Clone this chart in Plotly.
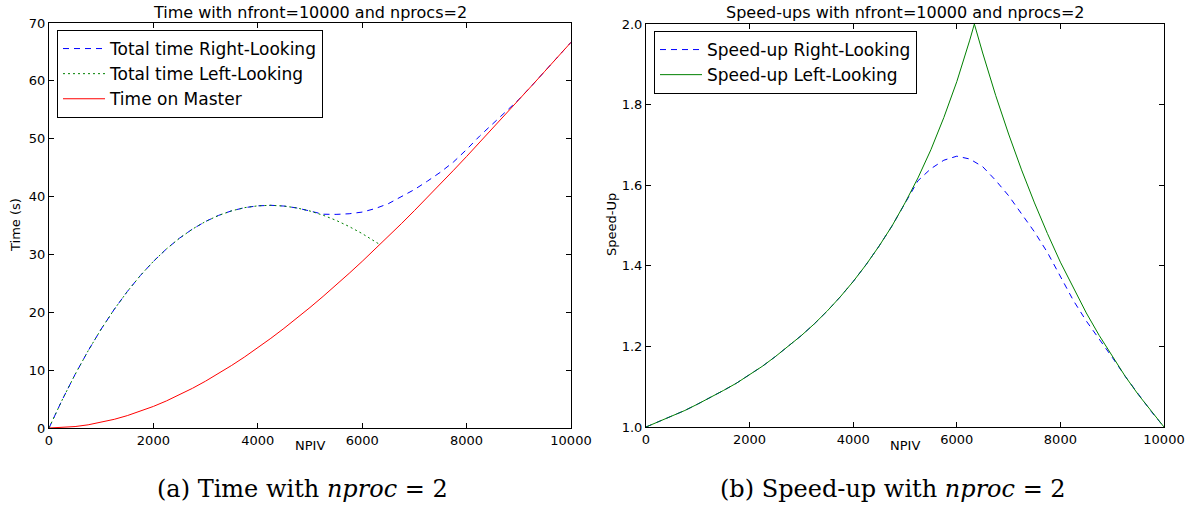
import plotly.graph_objects as go

# ---------------- data ----------------
npiv = [0, 250, 500, 750, 1000, 1250, 1500, 1750, 2000, 2250, 2500, 2750, 3000,
        3250, 3500, 3750, 4000, 4250, 4500, 4750, 5000, 5250, 5500, 5750, 6000,
        6250, 6500, 6750, 7000, 7250, 7500, 7750, 8000, 8250, 8500, 8750, 9000,
        9250, 9500, 9750, 10000]

npiv_left_time = [0, 250, 500, 750, 1000, 1250, 1500, 1750, 2000, 2250, 2500,
                  2750, 3000, 3250, 3500, 3750, 4000, 4250, 4500, 4750, 5000,
                  5250, 5500, 5750, 6000, 6250, 6339]

npiv_left_speed = [0, 250, 500, 750, 1000, 1250, 1500, 1750, 2000, 2250, 2500,
                   2750, 3000, 3250, 3500, 3750, 4000, 4250, 4500, 4750, 5000,
                   5250, 5500, 5750, 6000, 6250, 6339, 6500, 6750, 7000, 7250,
                   7500, 7750, 8000, 8250, 8500, 8750, 9000, 9250, 9500, 9750,
                   10000]

time_right_looking = [0, 4.81, 9.26, 13.35, 17.10, 20.51, 23.59, 26.35, 28.80,
                      30.95, 32.81, 34.39, 35.70, 36.75, 37.54, 38.09, 38.40,
                      38.49, 38.36, 38.03, 37.50, 36.95, 36.92, 37.03, 37.32,
                      37.93, 38.77, 39.94, 41.21, 42.67, 44.22, 45.99, 48.13,
                      50.46, 52.61, 54.59, 56.78, 59.18, 61.67, 64.17, 66.67]

time_left_looking = [0, 4.81, 9.26, 13.35, 17.10, 20.51, 23.59, 26.35, 28.80,
                     30.95, 32.81, 34.39, 35.70, 36.75, 37.54, 38.09, 38.40,
                     38.49, 38.36, 38.03, 37.50, 36.78, 35.89, 34.82, 33.60,
                     32.23, 31.70]

time_master = [0, 0.06, 0.25, 0.55, 0.97, 1.50, 2.14, 2.88, 3.73, 4.68, 5.73,
               6.87, 8.10, 9.42, 10.82, 12.30, 13.87, 15.50, 17.21, 18.99,
               20.83, 22.74, 24.70, 26.73, 28.80, 30.92, 33.10, 35.31, 37.57,
               39.86, 42.19, 44.55, 46.93, 49.35, 51.78, 54.23, 56.70, 59.18,
               61.67, 64.17, 66.67]

speedup_right_looking = [1.000, 1.013, 1.027, 1.041, 1.057, 1.073, 1.091, 1.109,
                         1.130, 1.151, 1.175, 1.200, 1.227, 1.256, 1.288, 1.323,
                         1.361, 1.403, 1.449, 1.499, 1.556, 1.611, 1.641, 1.662,
                         1.672, 1.665, 1.646, 1.612, 1.574, 1.530, 1.484, 1.433,
                         1.374, 1.314, 1.263, 1.219, 1.173, 1.126, 1.081, 1.039,
                         1.000]

speedup_left_looking = [1.000, 1.013, 1.027, 1.041, 1.057, 1.073, 1.091, 1.109,
                        1.130, 1.151, 1.175, 1.200, 1.227, 1.256, 1.288, 1.323,
                        1.361, 1.403, 1.449, 1.499, 1.556, 1.618, 1.688, 1.768,
                        1.857, 1.960, 2.000, 1.928, 1.823, 1.727, 1.638, 1.556,
                        1.480, 1.409, 1.344, 1.283, 1.227, 1.175, 1.126, 1.081,
                        1.039, 1.000]

x_ticks = [0, 2000, 4000, 6000, 8000, 10000]
x_tick_text = ["0", "2000", "4000", "6000", "8000", "10000"]
time_ticks = [0, 10, 20, 30, 40, 50, 60, 70]
time_tick_text = ["0", "10", "20", "30", "40", "50", "60", "70"]
speed_ticks = [1.0, 1.2, 1.4, 1.6, 1.8, 2.0]
speed_tick_text = ["1.0", "1.2", "1.4", "1.6", "1.8", "2.0"]

title_left = "Time with nfront=10000 and nprocs=2"
title_right = "Speed-ups with nfront=10000 and nprocs=2"
caption_left = "(a) Time with <i>nproc</i> = 2"
caption_right = "(b) Speed-up with <i>nproc</i> = 2"

# ---------------- figure ----------------
W, H = 1195, 509


def px(x):
    return x / W


def py(y):
    return 1 - y / H


BLUE = "#0000ff"
GREEN = "#008000"
RED = "#ff0000"
DASH = "6px,5px"
DOT = "2px,3px"

fig = go.Figure()

fig.add_trace(go.Scatter(x=npiv, y=time_right_looking, mode="lines",
                         name="Total time Right-Looking",
                         line=dict(color=BLUE, width=1, dash=DASH),
                         xaxis="x", yaxis="y", legend="legend"))
fig.add_trace(go.Scatter(x=npiv_left_time, y=time_left_looking, mode="lines",
                         name="Total time Left-Looking",
                         line=dict(color=GREEN, width=1, dash=DOT),
                         xaxis="x", yaxis="y", legend="legend"))
fig.add_trace(go.Scatter(x=npiv, y=time_master, mode="lines",
                         name="Time on Master",
                         line=dict(color=RED, width=1),
                         xaxis="x", yaxis="y", legend="legend"))

fig.add_trace(go.Scatter(x=npiv, y=speedup_right_looking, mode="lines",
                         name="Speed-up Right-Looking",
                         line=dict(color=BLUE, width=1, dash=DASH),
                         xaxis="x2", yaxis="y2", legend="legend2"))
fig.add_trace(go.Scatter(x=npiv_left_speed, y=speedup_left_looking, mode="lines",
                         name="Speed-up Left-Looking",
                         line=dict(color=GREEN, width=1),
                         xaxis="x2", yaxis="y2", legend="legend2"))

FONT = "DejaVu Sans"
axis_common = dict(showline=True, linecolor="black", linewidth=1, mirror="ticks",
                   ticks="inside", ticklen=5, tickwidth=1, tickcolor="black",
                   showgrid=False, zeroline=False, automargin=False,
                   tickfont=dict(family=FONT, size=13, color="black"))

legend_common = dict(xanchor="left", yanchor="top", bgcolor="white",
                     bordercolor="black", borderwidth=1, itemwidth=42,
                     font=dict(family=FONT, size=17, color="black"),
                     tracegroupgap=0)

fig.update_layout(
    width=W, height=H,
    margin=dict(l=0, r=0, t=0, b=0, autoexpand=False),
    paper_bgcolor="white", plot_bgcolor="white",
    showlegend=True,
    xaxis=dict(domain=[px(49), px(571)], range=[0, 10000], tickvals=x_ticks,
               ticktext=x_tick_text, anchor="y", **axis_common),
    yaxis=dict(domain=[py(428), py(23)], range=[0, 70], tickvals=time_ticks,
               ticktext=time_tick_text, anchor="x", **axis_common),
    xaxis2=dict(domain=[px(646), px(1164)], range=[0, 10000], tickvals=x_ticks,
                ticktext=x_tick_text, anchor="y2", **axis_common),
    yaxis2=dict(domain=[py(427), py(24)], range=[1.0, 2.0], tickvals=speed_ticks,
                ticktext=speed_tick_text, anchor="x2", **axis_common),
    legend=dict(x=px(57), y=py(30), **legend_common),
    legend2=dict(x=px(654), y=py(31), **legend_common),
)

annotations = [
    dict(text=title_left, x=px(310), y=py(12), font=dict(family=FONT, size=16)),
    dict(text=title_right, x=px(905), y=py(12), font=dict(family=FONT, size=16)),
    dict(text="NPIV", x=px(310), y=py(445), font=dict(family=FONT, size=13)),
    dict(text="NPIV", x=px(905), y=py(445), font=dict(family=FONT, size=13)),
    dict(text="Time (s)", x=px(16), y=py(225), textangle=-90,
         font=dict(family=FONT, size=13)),
    dict(text="Speed-Up", x=px(612), y=py(225), textangle=-90,
         font=dict(family=FONT, size=13)),
    dict(text=caption_left, x=px(303), y=py(489),
         font=dict(family="DejaVu Serif", size=24)),
    dict(text=caption_right, x=px(893), y=py(489),
         font=dict(family="DejaVu Serif", size=24)),
]
for a in annotations:
    a.update(xref="paper", yref="paper", showarrow=False,
             xanchor="center", yanchor="middle")
    a["font"]["color"] = "black"
fig.update_layout(annotations=annotations)

fig.write_html("out.html",
               config={"displayModeBar": False},
               post_script="document.body.style.margin='0px';"
                           "document.body.style.padding='0px';")
